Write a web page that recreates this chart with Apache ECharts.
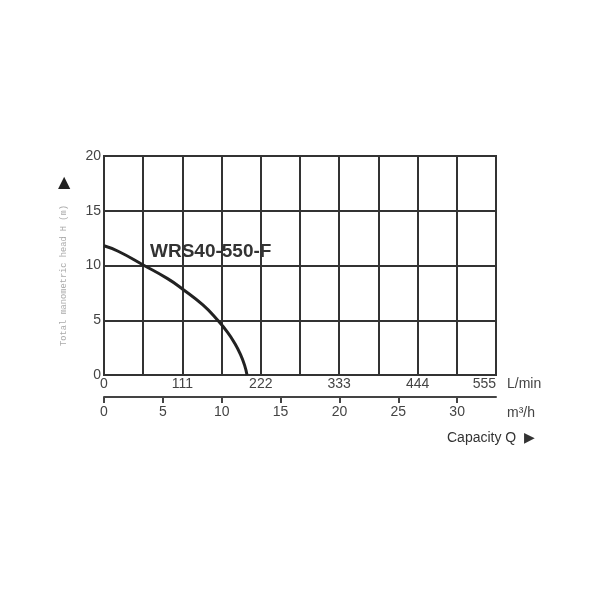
<!DOCTYPE html>
<html>
<head>
<meta charset="utf-8">
<script src="https://cdn.jsdelivr.net/npm/echarts@6/dist/echarts.min.js"></script>
<style>
  html, body { margin: 0; padding: 0; background: #fff; }
  #main { width: 600px; height: 600px; }
</style>
</head>
<body>
<div id="main"></div>
<script>
// flow in L/min vs head in m
var flowLmin = [0, 20, 55.5, 90, 111, 140, 161, 175, 185, 193, 199, 202.5];
var headM = [11.8, 11.3, 10.05, 8.8, 7.86, 6.4, 5.0, 3.9, 2.9, 1.9, 0.9, 0];
var lminLabels = [0, 111, 222, 333, 444, 555];
var m3hTicks = [0, 5, 10, 15, 20, 25, 30];
var modelName = 'WRS40-550-F';

var curve = flowLmin.map(function (q, i) { return [q, headM[i]]; });

var chart = echarts.init(document.getElementById('main'));
var gridColor = '#333';
var labelColor = '#444';

chart.setOption({
    animation: false,
    grid: {
        left: 104, right: 104, top: 156, bottom: 225,
        show: true, borderColor: gridColor, borderWidth: 2
    },
    xAxis: [{
        type: 'value', position: 'bottom',
        min: 0, max: 555, interval: 55.5,
        axisLine: { show: false },
        axisTick: { show: false },
        splitLine: { show: true, lineStyle: { color: gridColor, width: 2 } },
        axisLabel: {
            color: labelColor, fontSize: 14, margin: 2,
            fontFamily: 'Liberation Sans',
            alignMaxLabel: 'right',
            customValues: lminLabels
        }
    }, {
        type: 'value', position: 'bottom', offset: 22,
        min: 0, max: 33.3, interval: 5,
        axisLine: { show: true, onZero: false, lineStyle: { color: '#444', width: 2 } },
        axisTick: { show: true, inside: false, length: 6, customValues: m3hTicks,
            lineStyle: { color: '#444', width: 2 } },
        splitLine: { show: false },
        axisLabel: {
            color: labelColor, fontSize: 14, margin: 8,
            fontFamily: 'Liberation Sans',
            customValues: m3hTicks
        }
    }],
    yAxis: {
        type: 'value', min: 0, max: 20, interval: 5,
        axisLine: { show: false },
        axisTick: { show: false },
        splitLine: { show: true, lineStyle: { color: gridColor, width: 2 } },
        axisLabel: { color: labelColor, fontSize: 14, margin: 3, fontFamily: 'Liberation Sans' },
        name: 'Total manometric head H (m)',
        nameLocation: 'middle',
        nameGap: 36,
        nameRotate: 90,
        nameTextStyle: {
            color: '#aaa', fontSize: 8.7, fontFamily: 'Liberation Mono',
            padding: [0, 20, 0, 0]
        }
    },
    graphic: [
        { type: 'text', left: 58, top: 175,
          style: { text: '▲', fill: '#222', fontSize: 16, fontFamily: 'DejaVu Sans' } },
        { type: 'text', left: 150, top: 242,
          style: { text: modelName, fill: '#333', fontSize: 19, fontWeight: 'bold', fontFamily: 'Liberation Sans' } },
        { type: 'text', left: 507, top: 377,
          style: { text: 'L/min', fill: labelColor, fontSize: 14, fontFamily: 'Liberation Sans' } },
        { type: 'text', left: 507, top: 406,
          style: { text: 'm³/h', fill: labelColor, fontSize: 14, fontFamily: 'Liberation Sans' } },
        { type: 'text', left: 447, top: 431,
          style: { text: 'Capacity Q  ▶', fill: '#333', fontSize: 14, fontFamily: 'Liberation Sans' } }
    ],
    series: [{
        type: 'line',
        data: curve,
        smooth: true,
        showSymbol: false,
        lineStyle: { color: '#222', width: 3 },
        clip: true
    }]
});
</script>
</body>
</html>
